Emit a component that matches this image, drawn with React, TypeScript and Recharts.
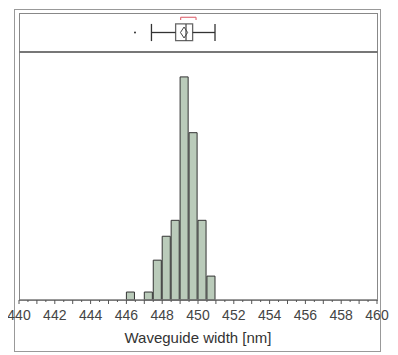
import React from 'react';
import {ComposedChart, Bar, Scatter, XAxis, YAxis, ReferenceArea, ReferenceLine} from 'recharts';

// histogram bins (0.5 nm wide), start of each bin and its count
const binStarts: number[] = [446, 446.5, 447, 447.5, 448, 448.5, 449, 449.5, 450, 450.5];
const binCounts: number[] = [1, 0, 1, 5, 8, 10, 28, 21, 10, 3];
const binWidth = 0.5;

// box plot summary
const outliers: number[] = [446.48];
const whiskerLow = 447.4;
const q1 = 448.75;
const median = 449.33;
const q3 = 449.7;
const whiskerHigh = 450.95;
const mean = 449.22;
const meanCI = 0.2;
const shortestHalf: number[] = [449.03, 449.89];

const tickValues: number[] = [];
for (let v = 440; v <= 460; v += 0.5) tickValues.push(v);

const histData = binStarts.map((s, i) => ({x: s + binWidth / 2, count: binCounts[i]}));
const outlierData = outliers.map(x => ({x, y: 0.5}));

const W = 390;
const H = 347;
const LEFT = 11;
const RIGHT = 21;
const plotW = W - LEFT - RIGHT;

function Tick(props: any) {
    const {x, y, payload} = props;
    const v = payload.value;
    const major = Number.isInteger(v);
    const labelled = major && v % 2 === 0;
    return (
        <g>
            <line x1={x} y1={y} x2={x} y2={y + (major ? 4 : 2)} stroke="#555" />
            {labelled && (
                <text x={x} y={y + 20} textAnchor="middle" fontSize={14} fill="#444">{v}</text>
            )}
        </g>
    );
}

const line = {stroke: '#333', strokeWidth: 1.3};

function App() {
    return (
        <div style={{position: 'relative', width: W, height: H, fontFamily: '"Liberation Sans", Arial, sans-serif'}}>
            {/* outer frame */}
            <div style={{position: 'absolute', left: 6, top: 1, width: 367, height: 343, border: '1px solid #999', boxSizing: 'border-box'}} />
            {/* panel frame */}
            <div style={{position: 'absolute', left: LEFT, top: 5, width: plotW + 1, height: 288, border: '1px solid #888', boxSizing: 'border-box'}} />
            <div style={{position: 'absolute', left: LEFT, top: 43, width: plotW + 1, height: 2, background: '#777'}} />

            {/* box plot panel */}
            <div style={{position: 'absolute', left: 0, top: 0}}>
                <ComposedChart width={W} height={50} data={outlierData} margin={{top: 5, right: RIGHT, bottom: 6, left: LEFT}}>
                    <XAxis type="number" dataKey="x" domain={[440, 460]} hide />
                    <YAxis type="number" dataKey="y" domain={[0, 1]} hide />
                    <ReferenceLine segment={[{x: whiskerLow, y: 0.5}, {x: q1, y: 0.5}]} {...line} />
                    <ReferenceLine segment={[{x: q3, y: 0.5}, {x: whiskerHigh, y: 0.5}]} {...line} />
                    <ReferenceLine segment={[{x: whiskerLow, y: 0.28}, {x: whiskerLow, y: 0.72}]} {...line} />
                    <ReferenceLine segment={[{x: whiskerHigh, y: 0.28}, {x: whiskerHigh, y: 0.72}]} {...line} />
                    <ReferenceArea x1={q1} x2={q3} y1={0.29} y2={0.72} fill="#fff" fillOpacity={1} stroke="#666" strokeWidth={1.3} />
                    <ReferenceLine segment={[{x: median, y: 0.29}, {x: median, y: 0.72}]} stroke="#444" strokeWidth={1.2} />
                    <ReferenceLine segment={[{x: mean - meanCI, y: 0.5}, {x: mean, y: 0.64}]} stroke="#444" />
                    <ReferenceLine segment={[{x: mean - meanCI, y: 0.5}, {x: mean, y: 0.36}]} stroke="#444" />
                    <ReferenceLine segment={[{x: mean, y: 0.64}, {x: mean + meanCI, y: 0.5}]} stroke="#444" />
                    <ReferenceLine segment={[{x: mean, y: 0.36}, {x: mean + meanCI, y: 0.5}]} stroke="#444" />
                    <ReferenceLine segment={[{x: shortestHalf[0], y: 0.89}, {x: shortestHalf[1], y: 0.89}]} stroke="#e0707a" strokeWidth={1.2} />
                    <ReferenceLine segment={[{x: shortestHalf[0], y: 0.89}, {x: shortestHalf[0], y: 0.82}]} stroke="#e0707a" strokeWidth={1.2} />
                    <ReferenceLine segment={[{x: shortestHalf[1], y: 0.89}, {x: shortestHalf[1], y: 0.82}]} stroke="#e0707a" strokeWidth={1.2} />
                    <Scatter dataKey="y" fill="#333" isAnimationActive={false} shape={(p: any) => <circle cx={p.cx} cy={p.cy} r={1} fill="#333" />} />
                </ComposedChart>
            </div>

            {/* histogram */}
            <div style={{position: 'absolute', left: 0, top: 0}}>
                <ComposedChart width={W} height={H} data={histData} margin={{top: 45, right: RIGHT, bottom: 0, left: LEFT}}>
                    <XAxis
                        type="number"
                        dataKey="x"
                        domain={[440, 460]}
                        ticks={tickValues}
                        interval={0}
                        height={55}
                        tickSize={0}
                        tickMargin={0}
                        tickLine={false}
                        axisLine={{stroke: '#777', strokeWidth: 1.5}}
                        tick={<Tick />}
                        label={{value: 'Waveguide width [nm]', position: 'insideBottom', offset: 12, fontSize: 15, fill: '#333'}}
                    />
                    <YAxis type="number" domain={[0, 31]} hide />
                    <Bar dataKey="count" barSize={plotW * binWidth / 20} fill="#bacbba" stroke="#333" strokeWidth={1} isAnimationActive={false} />
                </ComposedChart>
            </div>
        </div>
    );
}

export default App;
